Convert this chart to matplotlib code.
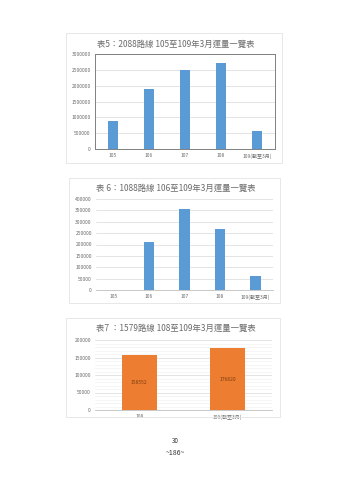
import matplotlib.pyplot as plt
from matplotlib.patches import Rectangle
from matplotlib.ticker import MultipleLocator, StrMethodFormatter

plt.rcParams['font.family'] = ['Noto Sans CJK TC', 'DejaVu Sans']

# Data
years_5 = ["105", "106", "107", "108", "109(截至3月)"]
ridership_5 = [870000, 1910000, 2480000, 2725000, 575000]

years_6 = ["105", "106", "107", "108", "109(截至3月)"]
ridership_6 = [0, 212000, 357000, 268000, 60000]

years_7 = ["108", "109(截至3月)"]
ridership_7 = [158552, 176820]

titles = [
    "表5：2088路線 105至109年3月運量一覽表",
    "表 6：1088路線 106至109年3月運量一覽表",
    "表7 ：1579路線 108至109年3月運量一覽表",
]

W, H = 350, 480
BLUE = "#5B9BD5"
ORANGE = "#ED7D31"
TXT = "#6b6b6b"
GRID = "#d9d9d9"


def ax_at(fig, x0, y0, x1, y1):
    """Axes placed with page pixel coords (top-left origin)."""
    return fig.add_axes([x0 / W, 1 - y1 / H, (x1 - x0) / W, (y1 - y0) / H])


def frame(fig, x0, y0, x1, y1):
    fig.patches.append(Rectangle((x0 / W, 1 - y1 / H), (x1 - x0) / W, (y1 - y0) / H,
                                 transform=fig.transFigure, fill=False,
                                 edgecolor="#e3e3e3", linewidth=0.6))


def style(ax, cats, vals, color, ymax, step, width):
    ax.bar(cats, vals, width=width, color=color, zorder=3)
    ax.set_ylim(0, ymax)
    ax.set_xlim(-0.5, len(cats) - 0.5)
    ax.yaxis.set_major_locator(MultipleLocator(step))
    ax.yaxis.set_major_formatter(StrMethodFormatter("{x:.0f}"))
    ax.grid(axis="y", color=GRID, linewidth=0.5, zorder=0)
    ax.tick_params(axis="both", length=0, labelsize=3.6, colors=TXT, pad=3)
    for s in ax.spines.values():
        s.set_visible(False)
    ax.spines["bottom"].set_visible(True)
    ax.spines["bottom"].set_color("#bfbfbf")
    ax.spines["bottom"].set_linewidth(0.6)


fig = plt.figure(figsize=(3.5, 4.8), dpi=100)

# Chart 5
frame(fig, 66, 33, 282, 163)
ax1 = ax_at(fig, 95, 54, 275, 149)
style(ax1, years_5, ridership_5, BLUE, 3000000, 500000, 0.3)
for s in ax1.spines.values():
    s.set_visible(True)
    s.set_color("#808080")
    s.set_linewidth(0.7)
fig.text(176 / W, 1 - 44 / H, titles[0], ha="center", va="center", fontsize=6.0, color=TXT)

# Chart 6
frame(fig, 69, 178, 280, 303)
ax2 = ax_at(fig, 96, 199, 273, 290)
style(ax2, years_6, ridership_6, BLUE, 400000, 50000, 0.3)
fig.text(176 / W, 1 - 188 / H, titles[1], ha="center", va="center", fontsize=6.0, color=TXT)

# Chart 7
frame(fig, 66, 318, 280, 417)
ax3 = ax_at(fig, 95, 340, 272, 410)
style(ax3, years_7, ridership_7, ORANGE, 200000, 50000, 0.4)
ax3.yaxis.set_minor_locator(MultipleLocator(10000))
ax3.grid(axis="y", which="minor", color="#eeeeee", linewidth=0.4, zorder=0)
ax3.tick_params(axis="y", which="minor", length=0)
for i, v in enumerate(ridership_7):
    ax3.text(i, v / 2, str(v), ha="center", va="center", fontsize=3.6, color="#7f3f10", zorder=4)
fig.text(176 / W, 1 - 328 / H, titles[2], ha="center", va="center", fontsize=6.0, color=TXT)

# Page footer
fig.text(175 / W, 1 - 441 / H, "30", ha="center", va="center", fontsize=4.5, color="#333333")
fig.text(175 / W, 1 - 453 / H, "~186~", ha="center", va="center", fontsize=5, color="#333333")

fig.savefig("out.png", dpi=100, facecolor="white")
